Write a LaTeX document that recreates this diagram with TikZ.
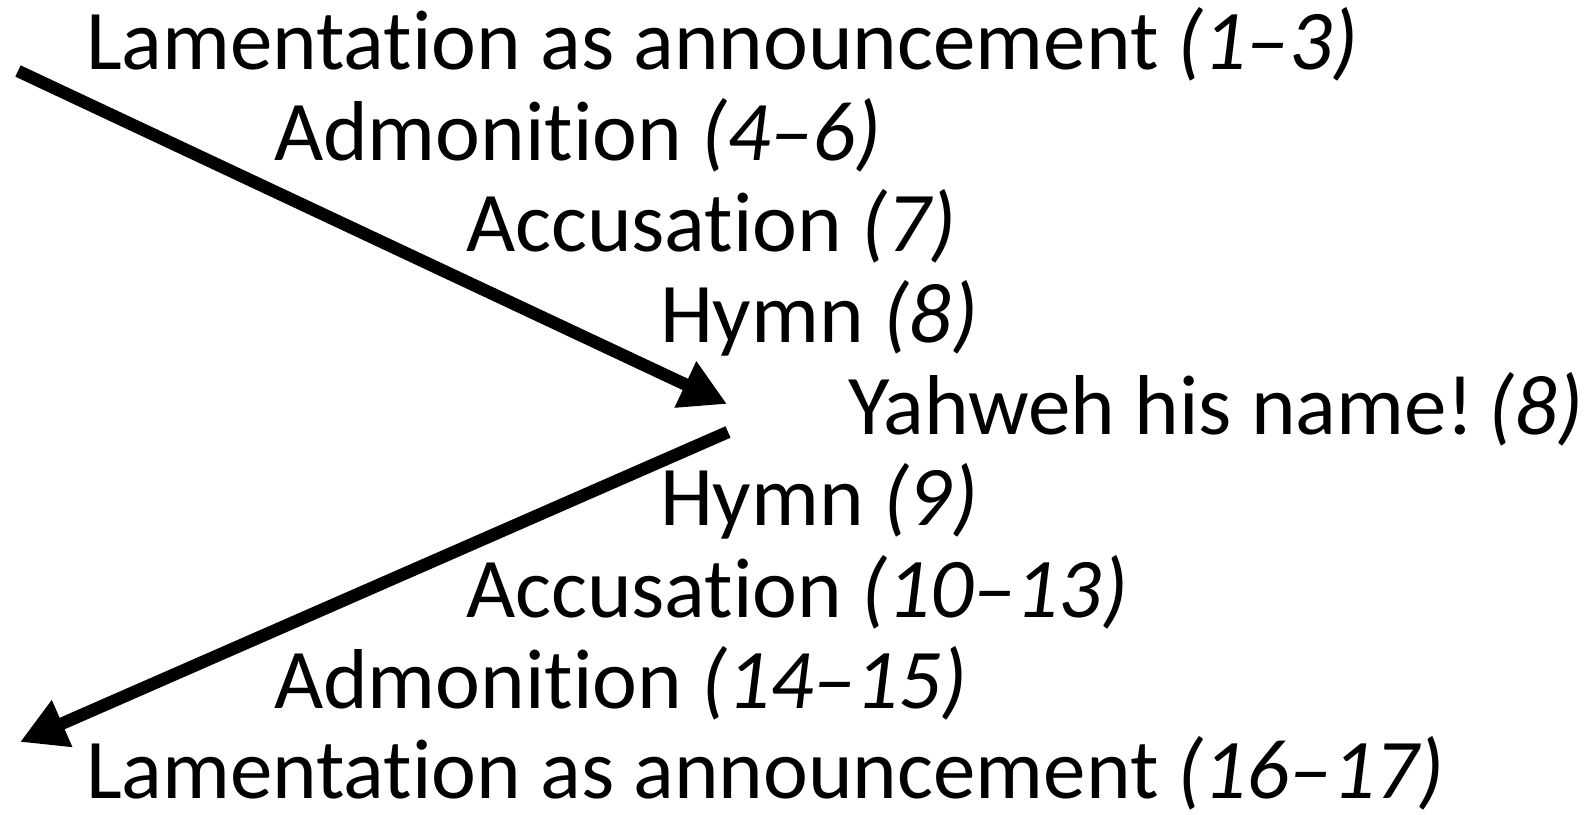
\documentclass[tikz,border=0pt]{standalone}
\usepackage{fontspec}
\setmainfont{Carlito}[Ligatures={NoCommon}]
\usetikzlibrary{arrows.meta}
\tikzset{
  lbl/.style={anchor=base west, inner sep=0pt, outer sep=0pt, font=\fontsize{85pt}{90pt}\selectfont},
  flow/.style={line width=12.5pt, -{Triangle[length=46pt,width=48pt]}}
}
\newcommand{\vs}[1]{\textit{(#1)}}
\begin{document}
\begin{tikzpicture}[x=1pt,y=-1pt]
\useasboundingbox (0,0) rectangle (1593,814);
\node[lbl] (l1) at (86,69) {Lamentation as announcement \vs{1–3}};
\node[lbl] (l2) at (274,160) {Admonition \vs{4–6}};
\node[lbl] (l3) at (466,251) {Accusation \vs{7}};
\node[lbl] (l4) at (660,342) {Hymn \vs{8}};
\node[lbl] (l5) at (848,434) {Yahweh his name!\,\vs{8}};
\node[lbl] (l6) at (660,525) {Hymn \vs{9}};
\node[lbl] (l7) at (466,617) {Accusation \vs{10–13}};
\node[lbl] (l8) at (274,708) {Admonition \vs{14–15}};
\node[lbl] (l9) at (86,798) {Lamentation as announcement \vs{16–17}};
\coordinate (a1s) at (18,71);
\coordinate (a1e) at (727,404);
\coordinate (a2s) at (728,432);
\coordinate (a2e) at (20,742);
\draw[flow] (a1s) -- (a1e);
\draw[flow] (a2s) -- (a2e);
\end{tikzpicture}
\end{document}
